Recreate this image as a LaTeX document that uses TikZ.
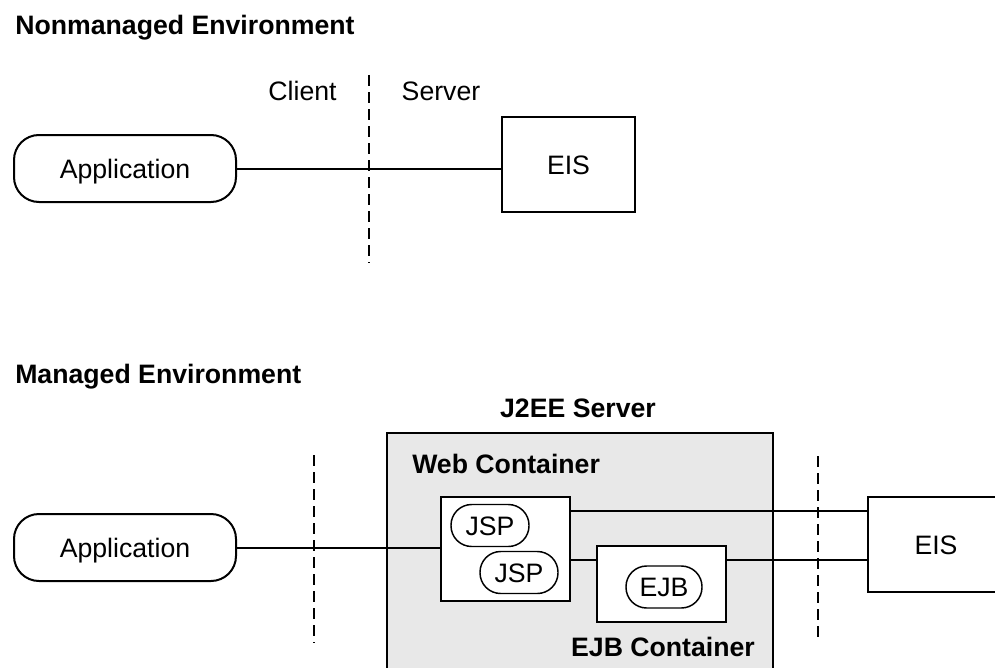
\documentclass[tikz,border=0pt]{standalone}
\usepackage{fontspec}
\setmainfont{Liberation Sans}
\definecolor{panelgray}{HTML}{E8E8E8}
\begin{document}
\begin{tikzpicture}[x=0.75pt,y=-0.75pt,
  every node/.style={font=\fontsize{20}{24}\selectfont, text height=14.3pt, text depth=0pt},
  lbl/.style={inner sep=0pt},
  head/.style={inner sep=0pt, font=\fontsize{20}{24}\selectfont\bfseries},
  appbox/.style={draw, line width=1.5pt, rounded corners=18.75pt, minimum width=166.5pt, minimum height=50.25pt, fill=white},
  sqbox/.style={draw, line width=1.5pt, fill=white},
  pill/.style={draw, line width=1.1pt, rounded corners=15.5pt, minimum height=31.5pt, fill=white},
  conn/.style={line width=1.5pt},
  divider/.style={line width=2.2pt, dash pattern=on 8.25pt off 4.5pt}
]
\useasboundingbox (0,0) rectangle (995,667);
\clip (0,0) rectangle (995,667);

% ---------- Nonmanaged environment ----------
\node[head, anchor=base west] (nmtitle) at (15,35) {Nonmanaged Environment};
\node[lbl, anchor=base] (client) at (302.5,100) {Client};
\node[lbl, anchor=base] (server) at (441,100) {Server};
\coordinate (dtA) at (369,75);
\coordinate (dtB) at (369,263);
\draw[divider] (dtA) -- (dtB);

\node[appbox] (app1) at (125,168.5) {Application};
\node[sqbox, minimum width=99.75pt, minimum height=71.25pt] (eis1) at (568.5,164.5) {EIS};
\draw[conn] (app1.east) -- (app1.east -| eis1.west);

% ---------- Managed environment ----------
\node[head, anchor=base west] (mtitle) at (15,383) {Managed Environment};
\node[head, anchor=base] (j2eelbl) at (578,417) {J2EE Server};

\node[draw, line width=1.5pt, fill=panelgray, minimum width=289.5pt, minimum height=200.25pt] (j2ee) at (580,566.5) {};
\node[head, anchor=base west] (weblbl) at (412,473) {Web Container};

\coordinate (dlA) at (314,455);
\coordinate (dlB) at (314,643);
\coordinate (drA) at (818,456);
\coordinate (drB) at (818,642);
\draw[divider] (dlA) -- (dlB);
\draw[divider] (drA) -- (drB);

\node[appbox] (app2) at (125,547.5) {Application};
\node[sqbox, minimum width=96.75pt, minimum height=78pt] (web) at (505.5,549) {};
\node[pill, minimum width=58.5pt] (jsp1) at (490,525.5) {JSP};
\node[pill, minimum width=58.5pt] (jsp2) at (519,572.5) {JSP};

\node[sqbox, minimum width=96.75pt, minimum height=57pt] (ejbc) at (661.5,584) {};
\node[pill, minimum width=57pt] (ejb) at (664,587) {EJB};
\node[head, anchor=base] (ejblbl) at (663,656) {EJB Container};

\node[sqbox, minimum width=102pt, minimum height=71.25pt] (eis2) at (936,544.5) {EIS};

\coordinate (w1) at (570,511);
\coordinate (w2) at (570,560);
\coordinate (e1) at (726,560);
\draw[conn] (app2.east) -- (app2.east -| web.west);
\draw[conn] (w1) -- (w1 -| eis2.west);
\draw[conn] (w2) -- (w2 -| ejbc.west);
\draw[conn] (e1) -- (e1 -| eis2.west);
\end{tikzpicture}
\end{document}
